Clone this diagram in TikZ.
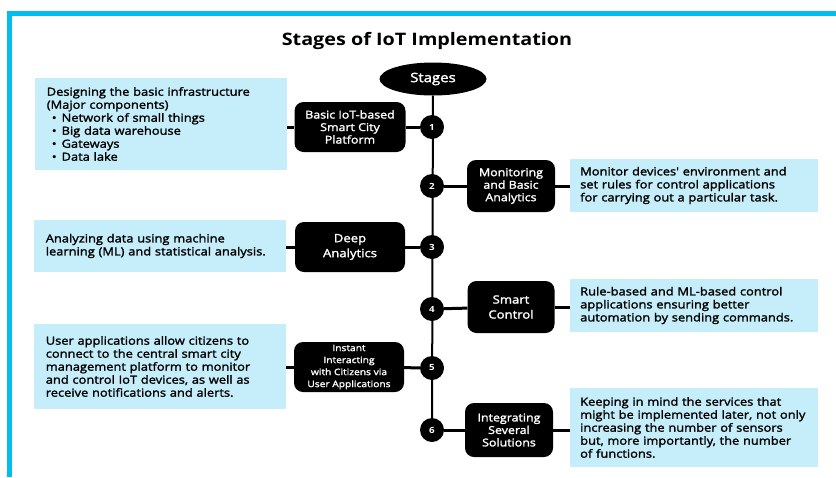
\documentclass[tikz,border=0pt]{standalone}
\usepackage{fontspec}
\setmainfont{Open Sans}[FakeStretch=1.15]
\newfontfamily\semibf{Open Sans}[FakeStretch=1.15, FakeBold=1.8]
\usetikzlibrary{positioning,shapes.geometric,backgrounds}

\definecolor{framecyan}{RGB}{0,190,240}
\definecolor{notecyan}{RGB}{198,238,250}

\tikzset{
    stagebox/.style={fill=black, text=white, rounded corners=9pt, align=center,
        inner sep=2pt, font=\semibf\fontsize{10.8}{12.5}\selectfont},
    stepdot/.style={circle, fill=black, text=white, minimum size=24pt, inner sep=0pt,
        font=\bfseries\fontsize{8.5}{8.5}\selectfont},
    note/.style={fill=notecyan, align=left, inner xsep=12pt, inner ysep=0pt,
        text width=228pt, font=\semibf\fontsize{11.2}{13}\selectfont},
    link/.style={line width=3pt},
}

\begin{document}
\begin{tikzpicture}[x=1pt, y=-1pt]
    \useasboundingbox (0,0) rectangle (836,477);

    % frame and title
    \draw[framecyan, line width=5pt] (9.5,477) -- (9.5,13.5) -- (836,13.5);
    \node[font=\bfseries\fontsize{17.2}{20}\selectfont] (title) at (427,41) {Stages of IoT Implementation};

    % spine with the numbered steps
    \node[ellipse, fill=black, text=white, minimum width=107pt, minimum height=33pt,
        font=\semibf\fontsize{13}{15}\selectfont] (stages) at (433,79) {Stages};
    \node[stepdot] (s1) at (432,127) {1};
    \node[stepdot] (s2) at (432,186) {2};
    \node[stepdot] (s3) at (432,247) {3};
    \node[stepdot] (s4) at (432,309) {4};
    \node[stepdot] (s5) at (432,368) {5};
    \node[stepdot] (s6) at (432,430) {6};

    % (1) basic platform
    \node[stagebox, minimum width=111pt, minimum height=50pt] (b1) at (350,127)
        {Basic IoT-based\\Smart City\\Platform};
    \node[note, minimum height=92pt, anchor=east] (n1) at (287,124)
        {Designing the basic infrastructure\\(Major components)\\
         \hspace*{5pt}\textbullet\hspace{5pt}Network of small things\\
         \hspace*{5pt}\textbullet\hspace{5pt}Big data warehouse\\
         \hspace*{5pt}\textbullet\hspace{5pt}Gateways\\
         \hspace*{5pt}\textbullet\hspace{5pt}Data lake};

    % (2) monitoring
    \node[stagebox, minimum width=88pt, minimum height=52pt] (b2) at (511,186)
        {Monitoring\\and Basic\\Analytics};
    \node[note, minimum height=53pt, anchor=west, inner xsep=10pt] (n2) at (570,185.5)
        {Monitor devices' environment and\\set rules for control applications\\for carrying out a particular task.};

    % (3) deep analytics
    \node[stagebox, minimum width=110pt, minimum height=50pt,
        font=\semibf\fontsize{11.4}{15}\selectfont] (b3) at (350,247) {Deep\\Analytics};
    \node[note, minimum height=52pt, anchor=east] (n3) at (286,246)
        {Analyzing data using machine\\learning (ML) and statistical analysis.};

    % (4) smart control
    \node[stagebox, minimum width=87pt, minimum height=52pt,
        font=\semibf\fontsize{11.4}{15}\selectfont] (b4) at (511,307) {Smart\\Control};
    \node[note, minimum height=53pt, anchor=west, inner xsep=10pt] (n4) at (570,305.5)
        {Rule-based and ML-based control\\applications ensuring better\\automation by sending commands.};

    % (5) user applications
    \node[stagebox, minimum width=110pt, minimum height=50pt,
        font=\semibf\fontsize{8.9}{12}\selectfont] (b5) at (349,367)
        {Instant\\Interacting\\with Citizens via\\User Applications};
    \node[note, minimum height=85pt, anchor=east] (n5) at (286,366.5)
        {User applications allow citizens to\\connect to the central smart city\\management platform to monitor\\and control IoT devices, as well as\\receive notifications and alerts.};

    % (6) integration
    \node[stagebox, minimum width=88pt, minimum height=54pt] (b6) at (509,430)
        {Integrating\\Several\\Solutions};
    \node[note, minimum height=79pt, anchor=west, inner xsep=10pt] (n6) at (570,427.5)
        {Keeping in mind the services that\\might be implemented later, not only\\increasing the number of sensors\\but, more importantly, the number\\of functions.};

    % connectors behind the boxes
    \begin{scope}[on background layer]
        \draw[line width=2pt] (stages) -- (s6);
        \draw[link] (s1) -- (b1);
        \draw[link] (b1.west) -- (b1.west -| n1.east);
        \draw[link] (s2) -- (b2);
        \draw[link] (b2.east) -- (b2.east -| n2.west);
        \draw[link] (s3) -- (b3);
        \draw[link] (b3.west) -- (b3.west -| n3.east);
        \draw[link] (s4) -- (b4);
        \draw[link] (b4.east) -- (b4.east -| n4.west);
        \draw[link] (s5) -- (b5);
        \draw[link] (b5.west) -- (b5.west -| n5.east);
        \draw[link] (s6) -- (b6);
        \draw[link] (b6.east) -- (b6.east -| n6.west);
    \end{scope}
\end{tikzpicture}
\end{document}
